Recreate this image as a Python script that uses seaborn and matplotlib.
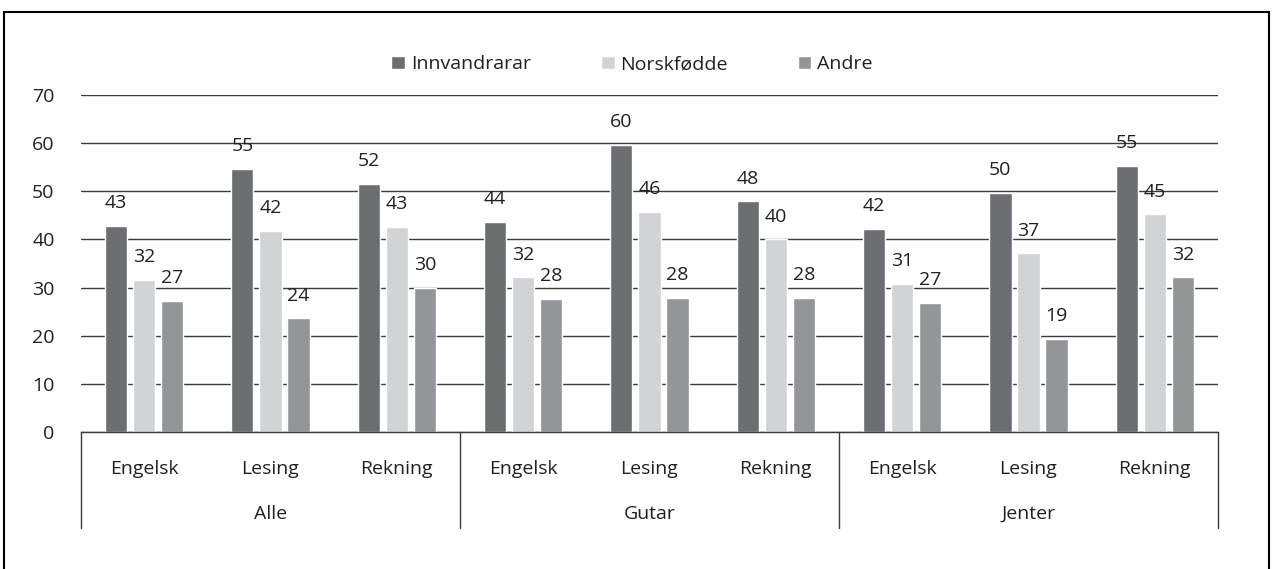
import pandas as pd
import seaborn as sns
import matplotlib.pyplot as plt
import matplotlib.transforms as mtransforms
from matplotlib.patches import Rectangle

groups = ["Alle", "Gutar", "Jenter"]
subjects = ["Engelsk", "Lesing", "Rekning"]
series = ["Innvandrarar", "Norskfødde", "Andre"]

innvandrarar = [42.9, 54.6, 51.6, 43.6, 59.6, 47.9, 42.2, 49.6, 55.3]
norskfodde = [31.6, 41.7, 42.6, 32.1, 45.7, 40.0, 30.8, 37.1, 45.2]
andre = [27.3, 23.6, 30.0, 27.6, 27.9, 27.9, 26.9, 19.3, 32.1]

colors = ["#6d6e71", "#d1d3d4", "#939598"]
text_color = "#231f20"
line_color = "#3a3a3a"

keys = [f"{g} {s}" for g in groups for s in subjects]
rows = []
for name, vals in zip(series, [innvandrarar, norskfodde, andre]):
    for k, v in zip(keys, vals):
        rows.append({"key": k, "serie": name, "verdi": v})
df = pd.DataFrame(rows)

sns.set_style("white")
plt.rcParams["font.family"] = ["Open Sans", "DejaVu Sans"]
plt.rcParams["font.size"] = 14

fig = plt.figure(figsize=(12.77, 5.69), dpi=100)
ax = fig.add_axes([0.0634, 0.2408, 0.8904, 0.5921])

sns.barplot(data=df, x="key", y="verdi", hue="serie", order=keys,
            hue_order=series, palette=colors, saturation=1, errorbar=None,
            width=0.667, gap=0.21, legend=False, ax=ax)

for c in ax.containers:
    ax.bar_label(c, fmt="%.0f", padding=10, fontsize=14, color=text_color)

ax.set_xlim(-0.5, 8.5)
ax.set_ylim(0, 70)
ax.set_yticks(range(0, 80, 10))
ax.yaxis.grid(True, color=line_color, linewidth=1)
ax.set_axisbelow(True)
for side in ["top", "right", "left"]:
    ax.spines[side].set_visible(False)
ax.spines["bottom"].set_color(line_color)
ax.spines["bottom"].set_linewidth(1)

ax.set_xlabel("")
ax.set_ylabel("")
ax.set_xticks(range(9))
ax.set_xticklabels(subjects * 3)
ax.tick_params(axis="x", length=0, pad=20, colors=text_color)
ax.tick_params(axis="y", length=0, pad=19, colors=text_color)

# second level of category axis
trans = mtransforms.blended_transform_factory(ax.transData, ax.transAxes)
for b in [-0.5, 2.5, 5.5, 8.5]:
    ax.plot([b, b], [0, -0.285], transform=trans, clip_on=False,
            color=line_color, linewidth=1)
for i, g in enumerate(groups):
    ax.text(3 * i + 1, -0.243, g, transform=trans, ha="center", va="center",
            color=text_color)

handles = [Rectangle((0, 0), 1, 1, facecolor=c) for c in colors]
fig.legend(handles, series, loc="center", bbox_to_anchor=(0.495, 0.887),
           ncol=3, frameon=False, handlelength=0.7, handleheight=0.7,
           handletextpad=0.3, columnspacing=3.6, labelcolor=text_color)

fig.patches.append(Rectangle((0.003, -0.1), 0.991, 1.079, transform=fig.transFigure,
                             fill=False, edgecolor="black", linewidth=1.5))

fig.savefig("out.png", dpi=100)
